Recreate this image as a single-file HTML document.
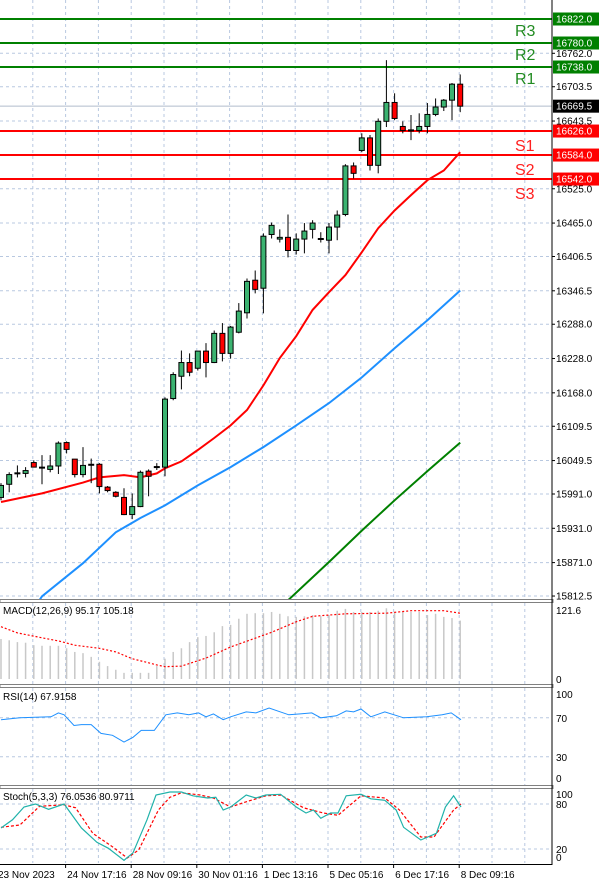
<!DOCTYPE html>
<html><head><meta charset="utf-8"><style>
html,body{margin:0;padding:0;background:#fff;}
svg{display:block;font-family:"Liberation Sans",sans-serif;}
</style></head><body>
<svg id="chart" width="600" height="884" viewBox="0 0 600 884" xmlns="http://www.w3.org/2000/svg">
<rect x="0" y="0" width="600" height="884" fill="#fff"/>
<g id="grid"></g>
<g id="main"></g>
<g id="macd"></g>
<g id="rsi"></g>
<g id="stoch"></g>
<g id="axes"></g>
</svg>
<script>
const opens=[15985,16008,16027,16027,16046,16038,16034,16040,16081,16052,16025,16043,16043,16003,15994,15985,15955,15969,16031,16038,16038,16158,16197,16221,16211,16241,16221,16272,16237,16274,16308,16365,16351,16445,16437,16440,16417,16437,16454,16437,16435,16458,16480,16565,16592,16614,16566,16643,16676,16634,16627,16627,16634,16655,16668,16680,16708];
const highs=[16010,16029,16041,16038,16050,16059,16059,16083,16083,16052,16073,16053,16045,16005,15996,16001,15992,16032,16034,16045,16160,16204,16242,16237,16241,16255,16277,16290,16285,16325,16368,16382,16447,16466,16454,16480,16447,16465,16470,16449,16465,16487,16568,16571,16622,16619,16648,16750,16692,16643,16654,16657,16675,16683,16682,16710,16725];
const lows=[15980,15994,16020,16020,16038,16008,16029,16026,16062,16020,16020,16010,15992,15994,15985,15954,15947,15968,15987,16033,16022,16155,16174,16197,16207,16195,16220,16223,16228,16272,16298,16342,16307,16438,16431,16405,16410,16412,16438,16431,16412,16435,16477,16543,16589,16557,16552,16633,16645,16622,16610,16622,16622,16652,16661,16645,16659];
const closes=[16006,16025,16028,16032,16038,16037,16040,16080,16069,16025,16041,16042,16004,15997,15987,15955,15969,16029,16022,16039,16157,16200,16221,16204,16241,16221,16272,16237,16283,16311,16363,16349,16442,16461,16440,16417,16437,16451,16465,16438,16458,16479,16565,16552,16614,16566,16643,16676,16648,16627,16628,16634,16655,16668,16680,16708,16669.5];
const maRedIdx=[0,5,10,12,15,17,19,20,22,24,26,28,30,32,34,36,38,40,42,44,46,48,50,52,54,56];
const maRed=[15977,15992,16011,16020,16024,16020,16027,16036,16048,16068,16089,16111,16138,16181,16229,16267,16313,16344,16374,16414,16456,16487,16514,16540,16557,16589];
const maBlueIdx=[4,5,10,14,17,20,24,28,32,36,40,44,48,52,56];
const maBlue=[15790,15812,15870,15924,15949,15971,16006,16038,16073,16111,16150,16195,16246,16295,16347];
const maGreenIdx=[34,35,40,44,48,52,56];
const maGreen=[15790,15805,15872,15927,15980,16031,16081];
const resLevels=[16822,16780,16738];
const resNames=["R3","R2","R1"];
const supLevels=[16626,16584,16542];
const supNames=["S1","S2","S3"];
const priceTicks=["16762.0","16703.5","16643.5","16525.0","16465.0","16406.5","16346.5","16288.0","16228.0","16168.0","16109.5","16049.5","15991.0","15931.0","15871.0","15812.5"];
const lastPrice=16669.5;
const macdHist=[65,63,60,59,55,54,54,54,50,44,42,36,28,21,15,10,10,10,10,21,33,44,50,60,68,70,76,86,88,98,106,107,107,109,106,102,101,102,104,102,104,111,114,109,109,109,111,115,109,109,109,109,104,106,101,99,95];
const macdSigIdx=[0,2,5,7,9,12,14,16,19,20,22,25,28,33,36,38,42,47,50,54,56];
const macdSig=[85,75,67,62,55,50,44,33,23,20,21,34,52,76,93,102,106,107,111,111,107];
const rsiIdx=[0,2.3,6.1,7,7.7,8.9,9.8,11,12.2,13.6,15,16.1,17.1,18.7,20.1,21.5,22.9,24.1,25,25.9,27.1,28,29.9,31.1,32.7,35.1,36.5,37.9,39,40.9,42.1,43,43.9,45.1,46.8,49.1,51.9,53.8,54.9,56.1];
const rsiVals=[68,70,71,75,73,62,63,63,54,52,45,50,57,57,73,75,73,75,71,74,68,71,76,75,80,73,74,75,70,72,77,76,79,71,76,70,71,73,75,68];
const stMainIdx=[0,1.4,2.8,4.2,5.8,7.7,9.8,11.7,13.1,15,16.1,17.8,18.9,20.6,22,23.4,25.2,26.2,27.1,28,29.9,31.1,32.3,34.1,36,37.2,38.1,39,40.2,41.1,42.1,43.9,45.1,46.8,48.2,49.1,51.2,53.1,54.2,55.2,56.1];
const stMain=[48,59,76,80,73,80,48,29,21,5,15,59,92,96,96,91,88,89,72,76,92,88,92,93,76,68,72,61,68,68,91,93,87,85,72,49,32,41,76,91,76];
const stSigIdx=[0,2.3,4.7,7.7,9.1,11.2,13.6,15.4,16.8,19.2,20.6,22,24.3,25.9,28,29.9,32.3,34.1,36.9,39.3,41.1,43.9,46.8,48.6,51.2,52.8,55.2,56.1];
const stSig=[49,52,77,79,75,41,23,8,19,72,89,95,92,88,76,83,91,92,75,68,65,91,88,72,36,36,72,80];
const xLabels=["23 Nov 2023","24 Nov 17:16","28 Nov 09:16","30 Nov 01:16","1 Dec 13:16","5 Dec 05:16","6 Dec 17:16","8 Dec 09:16"];
const xLabelIdx=[0,8,16,24,32,40,48,56];

const NS="http://www.w3.org/2000/svg";
function mk(tag,attrs,parent){const e=document.createElementNS(NS,tag);for(const k in attrs)e.setAttribute(k,attrs[k]);parent.appendChild(e);return e;}
const X=i=>1+i*8.2;
const PY=p=>19+(16822-p)*0.5716;
const MY=v=>679-v*0.615;
const RY=v=>786-v*0.975;
const SY=v=>864-v*0.75;
const AX=552;

const grid=document.getElementById('grid');
for(let k=1;k<=16;k++){const x=32.8*k;
  [[0,600],[603,685],[688,785],[789,863]].forEach(r=>{
    const l=mk('line',{x1:x,x2:x,y1:r[0],y2:r[1],stroke:'#b8c8e0','stroke-dasharray':'3,3','stroke-width':1},grid);
    
    
  });
}
priceTicks.forEach(t=>{const y=PY(parseFloat(t));
  const l=mk('line',{x1:0,x2:AX,y1:y,y2:y,stroke:'#b8c8e0','stroke-dasharray':'3,3'},grid);
  
  
});
[70,30].forEach(v=>{const l=mk('line',{x1:0,x2:AX,y1:RY(v),y2:RY(v),stroke:'#b8c8e0','stroke-dasharray':'3,3'},grid);
  
  });
[80,20].forEach(v=>{const l=mk('line',{x1:0,x2:AX,y1:SY(v),y2:SY(v),stroke:'#b8c8e0','stroke-dasharray':'3,3'},grid);
  
  });

const main=document.getElementById('main');
const clip=mk('clipPath',{id:'mclip'},main);mk('rect',{x:0,y:0,width:AX,height:600},clip);
const mg=mk('g',{'clip-path':'url(#mclip)'},main);
const cp=mk('line',{x1:0,x2:AX,y1:PY(lastPrice),y2:PY(lastPrice),stroke:'#b0bccc'},mg);


function poly(idx,vals,yf,attrs,parent,name){
  const pts=idx.map((i,k)=>X(i).toFixed(1)+','+yf(vals[k]).toFixed(1)).join(' ');
  const p=mk('polyline',Object.assign({points:pts,fill:'none'},attrs),parent);
  
  
}
poly(maRedIdx,maRed,PY,{stroke:'#ff0000','stroke-width':2},mg,'ma-red-line');
poly(maBlueIdx,maBlue,PY,{stroke:'#1e90ff','stroke-width':2},mg,'ma-blue-line');
poly(maGreenIdx,maGreen,PY,{stroke:'#008000','stroke-width':2},mg,'ma-green-line');
resLevels.forEach((v,k)=>{const y=PY(v);
  const l=mk('line',{x1:0,x2:AX,y1:y,y2:y,stroke:'#008000','stroke-width':2},mg);
  
  
  const t=mk('text',{x:515,y:y+17,fill:'#228b22','font-size':16},main);t.textContent=resNames[k];
  
  
});
supLevels.forEach((v,k)=>{const y=PY(v);
  const l=mk('line',{x1:0,x2:AX,y1:y,y2:y,stroke:'#ff0000','stroke-width':2},mg);
  
  
  const t=mk('text',{x:515,y:y+20,fill:'#ff2020','font-size':16},main);t.textContent=supNames[k];
  
  
});
opens.forEach((o,i)=>{const c=closes[i];const x=X(i);
  const g=mk('g',{},mg);
  
  
  mk('line',{x1:x,x2:x,y1:PY(highs[i]),y2:PY(lows[i]),stroke:'#000','stroke-width':1},g);
  const top=PY(Math.max(o,c)),bot=PY(Math.min(o,c));
  mk('rect',{x:x-2.5,y:top,width:5,height:Math.max(bot-top,1),fill:c>=o?'#3cb371':'#ff0000',stroke:'#000','stroke-width':1},g);
});

const macd=document.getElementById('macd');
macdHist.forEach((v,i)=>{const r=mk('rect',{x:X(i)-0.75,y:MY(v),width:1.5,height:MY(0)-MY(v),fill:'#c8c8c8'},macd);
  
  });
poly(macdSigIdx,macdSig,MY,{stroke:'#ff0000','stroke-width':1.2,'stroke-dasharray':'2,2'},macd,'macd-signal-line');
const mt=mk('text',{x:3,y:614,'font-size':10,fill:'#000'},macd);mt.textContent='MACD(12,26,9) 95.17 105.18';


const rsi=document.getElementById('rsi');
poly(rsiIdx,rsiVals,RY,{stroke:'#1e90ff','stroke-width':1},rsi,'rsi-line');
const rt=mk('text',{x:3,y:700,'font-size':10,fill:'#000'},rsi);rt.textContent='RSI(14) 67.9158';


const st=document.getElementById('stoch');
poly(stSigIdx,stSig,SY,{stroke:'#ff0000','stroke-width':1.2,'stroke-dasharray':'3,2'},st,'stoch-signal-line');
poly(stMainIdx,stMain,SY,{stroke:'#20b2aa','stroke-width':1.2},st,'stoch-main-line');
const stt=mk('text',{x:3,y:800,'font-size':10,fill:'#000'},st);stt.textContent='Stoch(5,3,3) 76.0536 80.9711';


const ax=document.getElementById('axes');
[601,686,787].forEach(y=>{const s=mk('rect',{x:0,y:y-1.5,width:AX+1,height:3,fill:'#ffffff',stroke:'#808080','stroke-width':1},ax);
  });
const va=mk('line',{x1:AX,x2:AX,y1:0,y2:865,stroke:'#000'},ax);

const ha=mk('line',{x1:0,x2:AX,y1:864.5,y2:864.5,stroke:'#000'},ax);

priceTicks.forEach(t=>{const y=PY(parseFloat(t));
  mk('line',{x1:AX,x2:AX+3,y1:y,y2:y,stroke:'#000'},ax);
  const tx=mk('text',{x:556,y:y+3.5,'font-size':10,fill:'#000'},ax);tx.textContent=t;
  
});
function box(v,fill,color,name){const y=PY(v);
  mk('rect',{x:553,y:y-6.5,width:46,height:13,fill:fill},ax);
  const t=mk('text',{x:556,y:y+3.5,'font-size':10,fill:color},ax);t.textContent=v.toFixed(1);
  }
resLevels.forEach(v=>box(v,'#008000','#fff','resistance-price-tag'));
supLevels.forEach(v=>box(v,'#ff0000','#fff','support-price-tag'));
box(lastPrice,'#000','#fff','current-price-tag');
function lab(txt,y,name){const t=mk('text',{x:556,y:y,'font-size':10,fill:'#000'},ax);t.textContent=txt;
  }
lab('121.6',614,'macd-max-label');lab('0',683,'macd-zero-label');
lab('100',698,'rsi-100-label');lab('70',722,'rsi-70-label');lab('30',761,'rsi-30-label');lab('0',782,'rsi-0-label');
lab('100',798,'stoch-100-label');lab('80',808,'stoch-80-label');lab('20',853,'stoch-20-label');lab('0',861,'stoch-0-label');
xLabels.forEach((s,k)=>{const x=X(xLabelIdx[k])-1;
  if(k>0)mk('line',{x1:x,x2:x,y1:864,y2:868,stroke:'#000'},ax);
  const t=mk('text',{x:k===0?-2:x+1.5,y:878,'font-size':10,fill:'#000'},ax);t.textContent=s;
  
});
</script>
</body></html>
